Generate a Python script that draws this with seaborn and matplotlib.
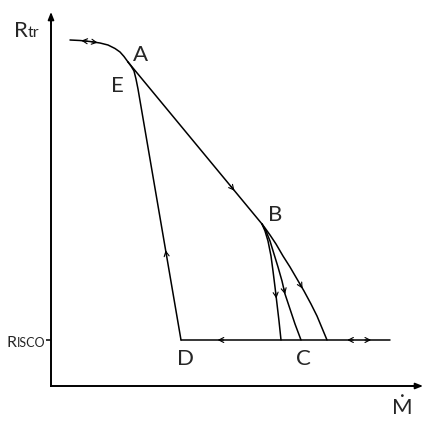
import matplotlib.pyplot as plt
import numpy as np
import pandas as pd
import seaborn as sns

# schematic track coordinates (arbitrary units: Mdot along x, R_tr along y)
top_x = [19, 29, 39, 49, 57, 64, 69, 73, 77]
top_y = [346, 345.5, 344.5, 343, 341, 337.5, 334, 329.5, 324]
ab_x = [77, 211]
ab_y = [324, 162]
ed_x = [77, 80, 83, 85, 87, 130]
ed_y = [324, 320, 315, 307, 297, 46]
isco_x = [130, 339]
isco_y = [46, 46]
b1_x = [211, 214, 217, 220, 222, 224, 226, 228, 230]
b1_y = [162, 155, 145, 130, 115, 99, 82, 65, 46]
b2_x = [211, 215, 219, 223, 227, 231, 234, 239, 244, 250]
b2_y = [162, 155, 145, 132, 119, 105, 92, 77, 62, 46]
b3_x = [211, 214, 219, 225, 232, 239, 246, 253, 260, 266, 271, 276]
b3_y = [162, 158, 151, 142, 130, 119, 107, 95, 82, 70, 58, 46]

r_isco = 46

# arrow marks: (branch, fraction along branch, +1 forward / -1 backward)
arrows = [
    ("top", 0.22, -1), ("top", 0.38, 1),
    ("ab", 0.78, 1),
    ("ed", 0.69, -1),
    ("b1", 0.62, 1), ("b2", 0.58, 1), ("b3", 0.55, 1),
    ("isco", 0.19, -1), ("isco", 0.81, -1), ("isco", 0.895, 1),
]

labels = {"A": (89, 332), "E": (66, 301), "B": (224, 172), "C": (252, 28), "D": (134, 28)}

branches = {
    "top": (top_x, top_y), "ab": (ab_x, ab_y), "ed": (ed_x, ed_y),
    "isco": (isco_x, isco_y), "b1": (b1_x, b1_y), "b2": (b2_x, b2_y), "b3": (b3_x, b3_y),
}

rows = []
for name, (xs, ys) in branches.items():
    for i in range(len(xs)):
        rows.append({"branch": name, "order": i, "x": xs[i], "y": ys[i]})
df = pd.DataFrame(rows)

sns.set_style("white")
plt.rcParams["font.family"] = ["Lato", "DejaVu Sans"]

fig = plt.figure(figsize=(4.36, 4.27), dpi=100)
ax = fig.add_axes([51 / 436, 40 / 427, 369 / 436, 371 / 427])

sns.lineplot(data=df, x="x", y="y", units="branch", estimator=None, sort=False,
             color="black", linewidth=1.1, ax=ax, legend=False)


def point_on(xs, ys, frac):
    xs = np.array(xs, float)
    ys = np.array(ys, float)
    seg = np.hypot(np.diff(xs), np.diff(ys))
    cum = np.concatenate([[0], np.cumsum(seg)])
    s = frac * cum[-1]
    i = min(np.searchsorted(cum, s) - 1, len(seg) - 1)
    i = max(i, 0)
    t = (s - cum[i]) / seg[i]
    px = xs[i] + t * (xs[i + 1] - xs[i])
    py = ys[i] + t * (ys[i + 1] - ys[i])
    d = np.array([xs[i + 1] - xs[i], ys[i + 1] - ys[i]]) / seg[i]
    return px, py, d


for name, frac, sign in arrows:
    xs, ys = branches[name]
    px, py, d = point_on(xs, ys, frac)
    d = d * sign
    ax.annotate("", xy=(px + d[0] * 3, py + d[1] * 3), xytext=(px - d[0] * 3, py - d[1] * 3),
                arrowprops=dict(arrowstyle="->,head_length=0.35,head_width=0.18",
                                color="black", lw=0.8, shrinkA=0, shrinkB=0))

for text, (lx, ly) in labels.items():
    ax.text(lx, ly, text, fontsize=16, ha="center", va="center")

ax.set_xlim(0, 369)
ax.set_ylim(0, 371)
sns.despine(ax=ax)
for side in ["left", "bottom"]:
    ax.spines[side].set_linewidth(1.4)
    ax.spines[side].set_color("black")

# axis arrowheads
ax.annotate("", xy=(372, 0), xytext=(360, 0), annotation_clip=False,
            arrowprops=dict(arrowstyle="-|>,head_length=0.45,head_width=0.18",
                            color="black", lw=1.2, shrinkA=0, shrinkB=0))
ax.annotate("", xy=(0, 374), xytext=(0, 362), annotation_clip=False,
            arrowprops=dict(arrowstyle="-|>,head_length=0.45,head_width=0.18",
                            color="black", lw=1.2, shrinkA=0, shrinkB=0))

ax.set_xticks([])
ax.set_yticks([r_isco])
ax.set_yticklabels([""])
ax.tick_params(axis="y", direction="out", length=3.5, width=1.1, color="black", left=True)
ax.set_xlabel("")
ax.set_ylabel("")

ax.text(-37, 350, "R", fontsize=16, ha="left", va="baseline")
ax.text(-23, 350, "tr", fontsize=11.5, ha="left", va="baseline")
ax.text(-44, r_isco - 6, "R", fontsize=11.5, ha="left", va="baseline")
ax.text(-34, r_isco - 6, "ISCO", fontsize=9, ha="left", va="baseline")
ax.text(351, -21, "Ṁ", fontsize=16, ha="center", va="center")

fig.savefig("out.png", dpi=100)
